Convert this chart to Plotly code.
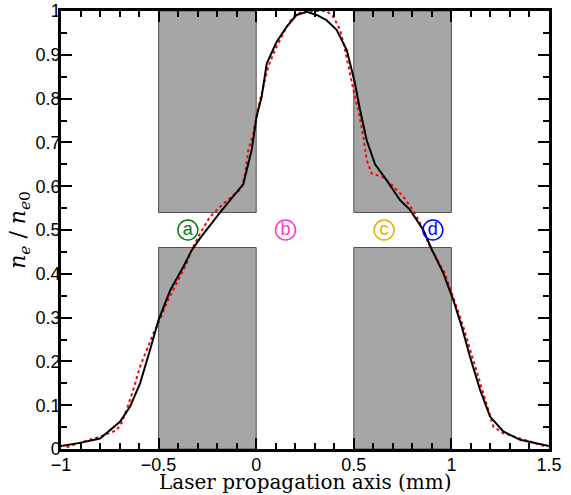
import plotly.graph_objects as go

# Electron density profile along the laser axis (normalised to peak)
x_sim = [-1.0, -0.903, -0.80, -0.698, -0.646, -0.595, -0.544, -0.50, -0.44, -0.373,
         -0.33, -0.288, -0.185, -0.117, -0.066, -0.023, 0.002, 0.028, 0.054, 0.105,
         0.156, 0.207, 0.259, 0.31, 0.361, 0.412, 0.464, 0.506, 0.532, 0.566,
         0.609, 0.668, 0.737, 0.788, 0.856, 0.899, 0.959, 1.01, 1.053, 1.095,
         1.147, 1.198, 1.266, 1.352, 1.5]
n_sim = [0.007, 0.014, 0.024, 0.062, 0.097, 0.15, 0.226, 0.295, 0.363, 0.416,
         0.454, 0.481, 0.54, 0.576, 0.605, 0.683, 0.759, 0.804, 0.88, 0.93,
         0.964, 0.991, 0.998, 0.991, 0.979, 0.957, 0.911, 0.835, 0.774, 0.705,
         0.65, 0.614, 0.568, 0.546, 0.50, 0.456, 0.401, 0.34, 0.279, 0.211,
         0.135, 0.074, 0.04, 0.021, 0.007]

x_fit = [-0.971, -0.886, -0.80, -0.715, -0.69, -0.664, -0.63, -0.595, -0.561, -0.527,
         -0.493, -0.459, -0.408, -0.356, -0.339, -0.288, -0.237, -0.185, -0.117, -0.074,
         -0.057, -0.04, -0.015, 0.011, 0.036, 0.062, 0.096, 0.156, 0.19, 0.241,
         0.30, 0.361, 0.395, 0.43, 0.455, 0.472, 0.498, 0.523, 0.549, 0.566,
         0.583, 0.591, 0.643, 0.686, 0.754, 0.814, 0.856, 0.89, 0.967, 1.018,
         1.061, 1.112, 1.163, 1.215, 1.266, 1.352, 1.488]
n_fit = [0.004, 0.017, 0.028, 0.043, 0.059, 0.089, 0.135, 0.188, 0.226, 0.264,
         0.295, 0.333, 0.378, 0.424, 0.447, 0.492, 0.53, 0.553, 0.58, 0.595,
         0.629, 0.683, 0.721, 0.781, 0.827, 0.873, 0.911, 0.964, 0.987, 1.0,
         1.0, 1.0, 0.987, 0.957, 0.911, 0.873, 0.82, 0.774, 0.713, 0.66,
         0.635, 0.629, 0.622, 0.607, 0.576, 0.538, 0.50, 0.462, 0.401, 0.333,
         0.279, 0.203, 0.127, 0.051, 0.036, 0.024, 0.005]

# Gas cell regions (x-extent) and the gap between upper and lower blocks
cells_x = [(-0.5, 0.0), (0.5, 1.0)]
cell_y = [(0.54, 1.0), (0.0, 0.46)]

# Labelled probe positions
probe_labels = ["a", "b", "c", "d"]
probe_x = [-0.35, 0.15, 0.655, 0.905]
probe_y = [0.5, 0.5, 0.5, 0.5]
probe_colors = ["#107a10", "#ff33cc", "#e0b000", "#0000ff"]

x_ticks = [-1, -0.5, 0, 0.5, 1, 1.5]
x_ticktext = ["\u22121", "\u22120.5", "0", "0.5", "1", "1.5"]
y_ticks = [0, 0.1, 0.2, 0.3, 0.4, 0.5, 0.6, 0.7, 0.8, 0.9, 1]
y_ticktext = ["0", "0.1", "0.2", "0.3", "0.4", "0.5", "0.6", "0.7", "0.8", "0.9", "1"]

x_title = "Laser propagation axis (mm)"
y_title = "<i>n</i><sub><i>e</i></sub> / <i>n</i><sub><i>e</i>0</sub>"

fig = go.Figure()

for (x0, x1) in cells_x:
    for (y0, y1) in cell_y:
        fig.add_shape(type="rect", x0=x0, x1=x1, y0=y0, y1=y1,
                      fillcolor="#a6a6a6", line=dict(color="#505050", width=1),
                      layer="below")

fig.add_trace(go.Scatter(x=x_fit, y=n_fit, mode="lines",
                         line=dict(color="red", width=2, dash="dot"),
                         showlegend=False))
fig.add_trace(go.Scatter(x=x_sim, y=n_sim, mode="lines",
                         line=dict(color="black", width=2),
                         showlegend=False))
fig.add_trace(go.Scatter(x=probe_x, y=probe_y, mode="markers+text",
                         text=probe_labels, textposition="middle center",
                         textfont=dict(family="Liberation Sans, Arial", size=18,
                                       color=probe_colors),
                         marker=dict(symbol="circle-open", size=20,
                                     color=probe_colors, line=dict(width=1.5)),
                         showlegend=False))

axis_common = dict(showgrid=False, zeroline=False, showline=True, linecolor="black",
                   linewidth=2.5, mirror="ticks", ticks="inside", ticklen=11,
                   tickwidth=2, tickcolor="black", automargin=False,
                   tickfont=dict(family="Liberation Sans, Arial", size=18, color="black"))

fig.update_xaxes(range=[-1, 1.5], tickvals=x_ticks, ticktext=x_ticktext,
                 ticklabelstandoff=-2,
                 minor=dict(dtick=0.1, ticks="inside", ticklen=6, tickwidth=2,
                            tickcolor="black"),
                 **axis_common)
fig.update_yaxes(range=[0, 1], tickvals=y_ticks, ticktext=y_ticktext,
                 ticklabelstandoff=-6,
                 minor=dict(dtick=0.05, ticks="inside", ticklen=6, tickwidth=2,
                            tickcolor="black"),
                 title=dict(text=y_title, standoff=4,
                            font=dict(family="DejaVu Serif", size=22, color="black")),
                 **axis_common)

# x-axis title placed as an annotation just under the tick labels
fig.add_annotation(text=x_title, xref="paper", yref="paper", x=0.5, y=0,
                   xanchor="center", yanchor="middle", yshift=-33, showarrow=False,
                   font=dict(family="DejaVu Serif", size=20, color="black"))

fig.update_layout(width=571, height=495, plot_bgcolor="white", paper_bgcolor="white",
                  margin=dict(l=61, r=22, t=11, b=46))

fig.write_html("out.html")
